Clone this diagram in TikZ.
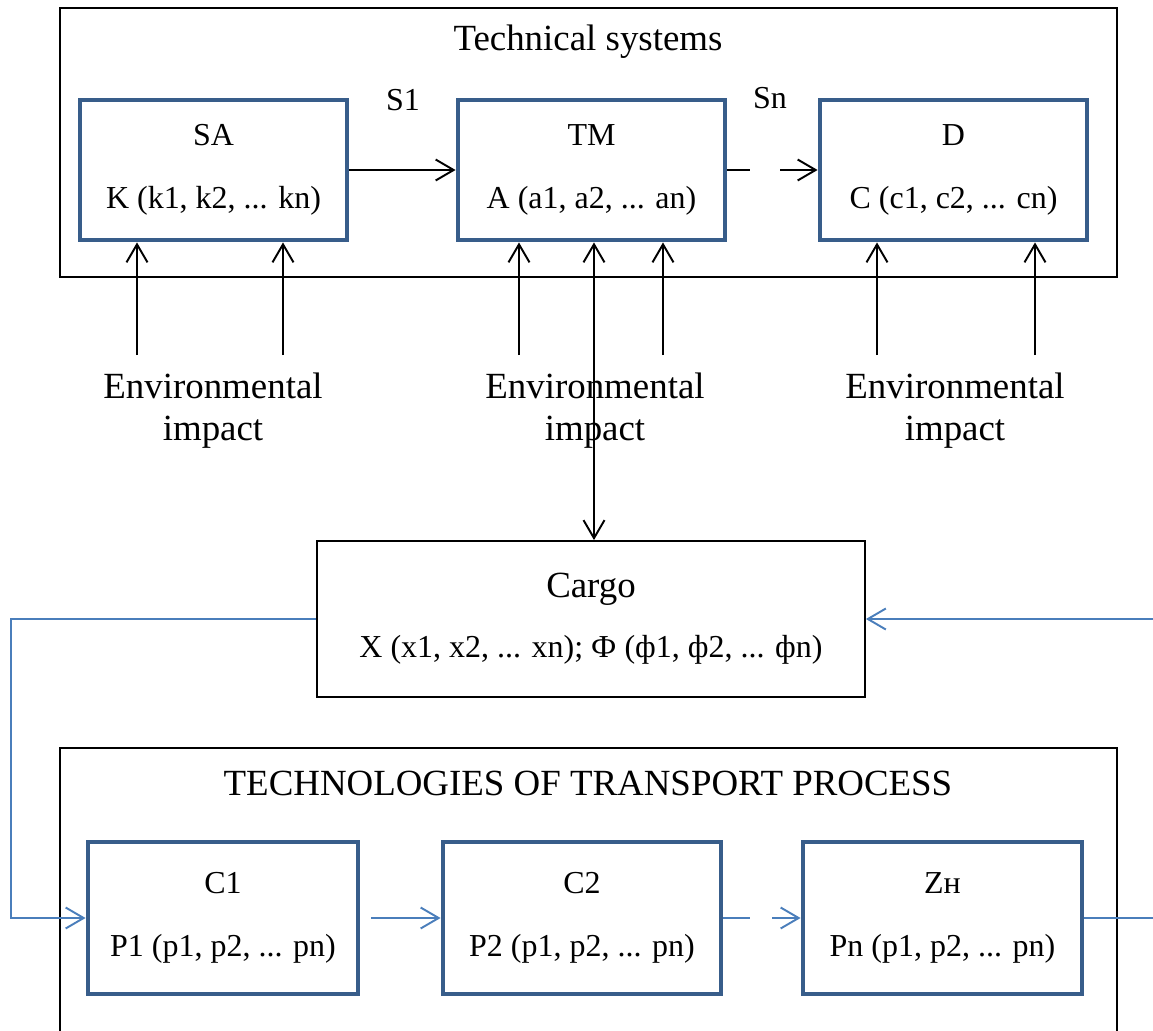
\documentclass[tikz,border=0pt]{standalone}
\usepackage{fontspec}
\setmainfont{Liberation Serif}
\usepackage{tikz}
\usetikzlibrary{arrows.meta, positioning}
\definecolor{boxblue}{HTML}{385D8A}
\definecolor{lineblue}{HTML}{4A7EBB}

\begin{document}
\begin{tikzpicture}[x=0.02cm, y=-0.02cm, line width=1.1pt,
        >={Straight Barb[length=0.36cm,width=0.42cm]},
        unit/.style={draw=boxblue, line width=2.8pt, align=center, inner sep=0pt,
          font=\fontsize{18.2}{22}\selectfont},
        cargobox/.style={draw, align=center, inner sep=0pt, font=\fontsize{18.2}{22}\selectfont},
        frame/.style={draw=black},
        title/.style={font=\fontsize{21}{25}\selectfont},
        lbl/.style={font=\fontsize{18.2}{22}\selectfont},
        env/.style={align=center, font=\fontsize{21}{24}\selectfont},
        flow/.style={->, draw=lineblue}]

  \clip (0,0) rectangle (1153,1031);

  % technical systems
  \draw[frame] (60,8) rectangle (1117,277);
  \node[title] (techsys) at (588,42) {Technical systems};
  \node[unit, minimum width=5.34cm, minimum height=2.8cm] (SA) at (213.5,170) {SA\\[14pt]K (k1, k2, ... kn)};
  \node[unit, minimum width=5.34cm, minimum height=2.8cm] (TM) at (591.5,170) {TM\\[14pt]A (a1, a2, ... an)};
  \node[unit, minimum width=5.34cm, minimum height=2.8cm] (D) at (953.5,170) {D\\[14pt]C (c1, c2, ... cn)};
  \node[lbl] (s1) at (403,100) {S1};
  \node[lbl] (sn) at (770,98) {Sn};

  \draw[->] (SA) -- (TM);
  \draw[->, dash pattern=on 0.46cm off 0.6cm on 3cm] (TM) -- (D);

  % environment
  \node[env] (envSA) at (213,411) {Environmental\\impact};
  \node[env] (envTM) at (595,411) {Environmental\\impact};
  \node[env] (envD) at (955,411) {Environmental\\impact};
  \foreach \x/\tgt in {137/SA, 283/SA, 519/TM, 663/TM, 877/D, 1035/D} {
    \coordinate (e\x) at (\x,355);
    \draw[->] (e\x) -- (e\x |- \tgt.south);
  }

  % cargo
  \node[cargobox, minimum width=10.96cm, minimum height=3.12cm] (cargo) at (591,619)
    {{\fontsize{21}{25}\selectfont Cargo}\\[12pt]X (x1, x2, ... xn); Ф (ф1, ф2, ... фn)};
  \draw[<->] ([xshift=0.05cm]TM.south) -- ([xshift=0.05cm]TM.south |- cargo.north);

  % transport process
  \draw[frame] (60,748) rectangle (1117,1080);
  \node[title] (techproc) at (588,783) {TECHNOLOGIES OF TRANSPORT PROCESS};
  \node[unit, minimum width=5.4cm, minimum height=3.04cm] (C1) at (223,918) {C1\\[14pt]P1 (p1, p2, ... pn)};
  \node[unit, minimum width=5.56cm, minimum height=3.04cm] (C2) at (582,918) {C2\\[14pt]P2 (p1, p2, ... pn)};
  \node[unit, minimum width=5.58cm, minimum height=3.04cm] (Zn) at (942.5,918) {Zн\\[14pt]Pn (p1, p2, ... pn)};

  \draw[flow, shorten <=0.22cm] (C1) -- (C2);
  \draw[flow, dash pattern=on 0.54cm off 0.44cm on 3cm] (C2) -- (Zn);
  \draw[flow] (cargo.west) -- ++(-305,0) |- (C1.west);
  \draw[flow] (Zn.east) -- ++(120,0) |- (cargo.east);
\end{tikzpicture}
\end{document}
